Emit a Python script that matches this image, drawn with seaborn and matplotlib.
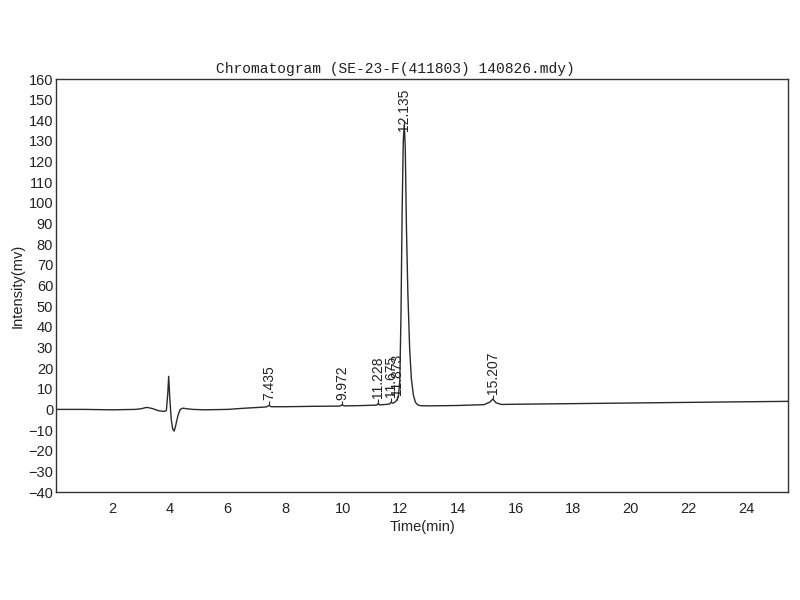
import matplotlib
matplotlib.use("Agg")
import matplotlib.pyplot as plt
import seaborn as sns
import pandas as pd

# ---- data ----
time_min = [0.05, 1.0, 2.0, 2.8, 3.0, 3.2, 3.4, 3.6, 3.8, 3.88, 3.93, 3.96, 4.0,
            4.05, 4.1, 4.15, 4.2, 4.28, 4.36, 4.45, 4.6, 4.8, 5.2, 6.0, 6.5, 7.0,
            7.35, 7.435, 7.52, 8.0, 9.0, 9.9, 9.972, 10.05, 10.5, 11.0, 11.18,
            11.228, 11.28, 11.5, 11.62, 11.675, 11.73, 11.82, 11.873, 11.93,
            11.98, 12.02, 12.06, 12.1, 12.135, 12.17, 12.21, 12.26, 12.32, 12.38,
            12.45, 12.52, 12.6, 12.7, 13.0, 14.0, 14.9, 15.1, 15.207, 15.32, 15.5,
            16.0, 18.0, 20.0, 22.0, 24.0, 25.45]
intensity_mv = [0.0, 0.0, -0.2, 0.0, 0.3, 1.0, 0.4, -0.6, -1.0, -0.5, 8.0, 16.0, 5.0,
                -5.0, -9.5, -10.5, -8.0, -3.0, 0.0, 0.6, 0.3, 0.0, -0.2, 0.0, 0.5, 0.9,
                1.2, 1.9, 1.3, 1.3, 1.5, 1.6, 2.2, 1.7, 1.8, 2.0, 2.1,
                2.8, 2.2, 2.4, 2.6, 3.4, 3.0, 3.6, 4.5, 6.0,
                14.0, 45.0, 95.0, 130.0, 138.0, 126.0, 88.0, 56.0, 30.0, 15.0,
                7.0, 3.5, 2.2, 1.8, 1.7, 1.9, 2.3, 3.5, 5.0, 3.2, 2.4,
                2.5, 2.8, 3.1, 3.4, 3.7, 3.9]

peak_times = [7.435, 9.972, 11.228, 11.675, 11.873, 12.135, 15.207]
peak_heights = [1.9, 2.2, 2.8, 3.4, 4.5, 138.0, 5.0]
peak_labels = ["7.435", "9.972", "11.228", "11.675", "11.873", "12.135", "15.207"]

x_ticks = [2, 4, 6, 8, 10, 12, 14, 16, 18, 20, 22, 24]
y_ticks = [-40, -30, -20, -10, 0, 10, 20, 30, 40, 50, 60, 70, 80, 90, 100,
           110, 120, 130, 140, 150, 160]

title_text = "Chromatogram (SE-23-F(411803) 140826.mdy)"
x_label = "Time(min)"
y_label = "Intensity(mv)"

# ---- plot ----
sns.set_style("white")
plt.rcParams["font.family"] = ["Liberation Sans", "DejaVu Sans"]

df = pd.DataFrame({"time": time_min, "intensity": intensity_mv})

fig = plt.figure(figsize=(8, 6), dpi=100)
ax = fig.add_axes([0.07, 0.18, 0.915, 0.6883])

sns.lineplot(data=df, x="time", y="intensity", ax=ax, color="#2a2a2a",
             linewidth=1.0, estimator=None, sort=False)

main_h = max(peak_heights)
for t, h, lab in zip(peak_times, peak_heights, peak_labels):
    ax.vlines(t, h, h + 2.0, color="#2a2a2a", linewidth=0.8)
    y_txt = h - 3.0 if h == main_h else h + 2.5
    ax.text(t, y_txt, lab, rotation=90, ha="center", va="bottom",
            fontsize=10, color="#222222")

ax.set_xlim(0.05, 25.45)
ax.set_ylim(-40, 160)
ax.set_xticks(x_ticks)
ax.set_yticks(y_ticks)
ax.tick_params(axis="both", length=0, labelsize=10.5, colors="#222222")
ax.tick_params(axis="y", pad=2)
ax.tick_params(axis="x", pad=7)
ax.set_xlabel(x_label, fontsize=10.5, color="#222222", labelpad=3)
ax.set_ylabel(y_label, fontsize=10.5, color="#222222", labelpad=3)

for s in ax.spines.values():
    s.set_color("#333333")
    s.set_linewidth(1.0)

fig.text(395 / 800, 1 - 69 / 600, title_text, ha="center", va="center",
         fontsize=10.5, family="Liberation Mono", color="#222222")

fig.savefig("out.png", dpi=100, facecolor="white")
